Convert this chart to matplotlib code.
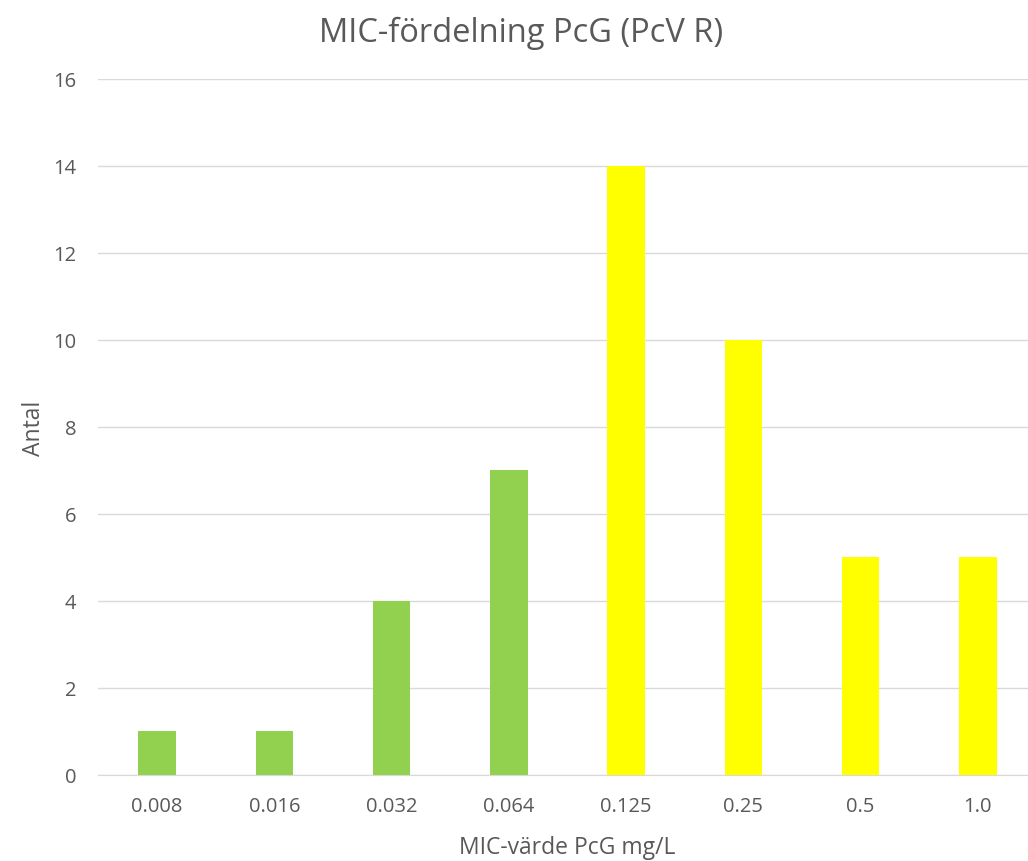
import matplotlib
matplotlib.use('Agg')
import matplotlib.pyplot as plt
import numpy as np

plt.rcParams['font.family'] = ['Open Sans', 'DejaVu Sans']

mic_varden = ['0.008', '0.016', '0.032', '0.064', '0.125', '0.25', '0.5', '1.0']
antal = [1, 1, 4, 7, 14, 10, 5, 5]
farger = ['#92D050'] * 4 + ['#FFFF00'] * 4

textfarg = '#595959'

fig = plt.figure(figsize=(10.28, 8.62), dpi=100)
ax = fig.add_axes([0.0957, 0.0998, 0.9125, 0.8074])

x = np.arange(len(mic_varden))
ax.bar(x, antal, width=0.32, color=farger, zorder=3)

ax.set_xlim(-0.5, len(mic_varden) - 0.5)
ax.set_ylim(0, 16)
ax.set_yticks(range(0, 17, 2))
ax.set_xticks(x)
ax.set_xticklabels(mic_varden)
ax.grid(axis='y', color='#D9D9D9', linewidth=1, zorder=0)

for s in ['top', 'right', 'left']:
    ax.spines[s].set_visible(False)
ax.spines['bottom'].set_color('#D9D9D9')
ax.tick_params(axis='both', length=0, labelsize=14.5, colors=textfarg)
ax.tick_params(axis='x', pad=15)
ax.tick_params(axis='y', pad=16)

ax.set_xlabel('MIC-värde PcG mg/L', fontsize=16.5, color=textfarg, labelpad=14)
ax.set_ylabel('Antal', fontsize=16.5, color=textfarg, labelpad=5)
fig.suptitle('MIC-fördelning PcG (PcV R)', fontsize=23.5, color=textfarg, x=0.507, y=0.98)

fig.savefig('out.png', dpi=100)
